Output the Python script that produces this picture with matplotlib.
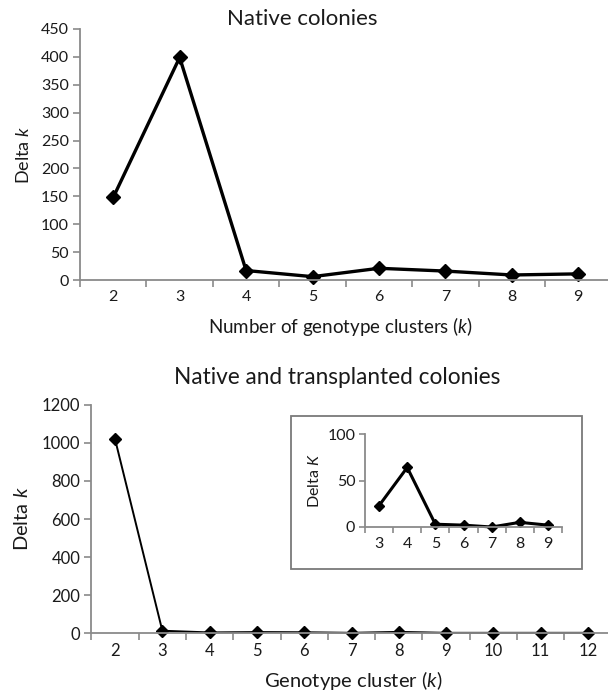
import matplotlib
matplotlib.use("Agg")
import matplotlib.pyplot as plt
from matplotlib.patches import Rectangle

plt.rcParams['font.family'] = ['Lato', 'DejaVu Sans']
plt.rcParams['mathtext.fontset'] = 'custom'
plt.rcParams['mathtext.rm'] = 'Lato'
plt.rcParams['mathtext.it'] = 'Lato:italic'

# Native colonies
k_native = [2, 3, 4, 5, 6, 7, 8, 9]
delta_native = [148, 399, 17, 6, 21, 16, 9, 11]

# Native and transplanted colonies
k_all = [2, 3, 4, 5, 6, 7, 8, 9, 10, 11, 12]
delta_all = [1020, 12, 3, 5, 4, 1, 6, 1, 1, 1, 1]

# inset (zoom of k = 3..9)
k_inset = [3, 4, 5, 6, 7, 8, 9]
delta_inset = [23, 64, 3, 2, 0, 5, 2]

AXIS = '#8a8a8a'
TXT = '#1a1a1a'


def style_axes(ax, cats, ylim, yticks, tick_fs, tlen=5):
    ax.set_xlim(cats[0] - 0.5, cats[-1] + 0.5)
    ax.set_ylim(*ylim)
    ax.set_yticks(yticks)
    ax.set_xticks(cats)
    ax.set_xticks([c - 0.5 for c in cats] + [cats[-1] + 0.5], minor=True)
    ax.tick_params(axis='x', which='major', length=0, pad=7, labelsize=tick_fs, colors=TXT)
    ax.tick_params(axis='x', which='minor', length=tlen, direction='out', color=AXIS, width=1.2)
    ax.tick_params(axis='y', length=tlen, direction='out', color=AXIS, width=1.2,
                   labelsize=tick_fs, labelcolor=TXT, pad=3)
    for s in ['top', 'right']:
        ax.spines[s].set_visible(False)
    for s in ['left', 'bottom']:
        ax.spines[s].set_color(AXIS)
        ax.spines[s].set_linewidth(1.3)
    ax.patch.set_alpha(0)


fig = plt.figure(figsize=(6.08, 6.92), dpi=100)
W, H = 608, 692


def px_axes(x0, y0, x1, y1):
    return fig.add_axes([x0 / W, 1 - y1 / H, (x1 - x0) / W, (y1 - y0) / H])


# top chart
ax1 = px_axes(80, 29, 611.5, 280)
ax1.plot(k_native, delta_native, color='black', lw=2.4, marker='D', ms=7.5, clip_on=False)
style_axes(ax1, k_native, (0, 450), range(0, 451, 50), 11.5)
ax1.set_ylabel('Delta $k$', fontsize=13, color=TXT, labelpad=6)
fig.text(302 / W, 1 - 19 / H, 'Native colonies', ha='center', va='center', fontsize=16, color=TXT)
fig.text(341 / W, 1 - 326 / H, 'Number of genotype clusters ($k$)', ha='center', va='center',
         fontsize=13.5, color=TXT)

# bottom chart
ax2 = px_axes(91.4, 405, 611.6, 633)
ax2.plot(k_all, delta_all, color='black', lw=1.4, marker='D', ms=6.5, clip_on=False)
style_axes(ax2, k_all, (0, 1200), range(0, 1201, 200), 12)
ax2.set_ylabel('Delta $k$', fontsize=14.5, color=TXT, labelpad=8)
fig.text(337 / W, 1 - 377 / H, 'Native and transplanted colonies', ha='center', va='center',
         fontsize=16.3, color=TXT)
fig.text(353 / W, 1 - 681 / H, 'Genotype cluster ($k$)', ha='center', va='center',
         fontsize=14.5, color=TXT)

# inset box
fig.patches.append(Rectangle((291 / W, 1 - 569 / H), 291 / W, 153 / H, transform=fig.transFigure,
                             fill=True, facecolor='white', edgecolor='#7a7a7a', lw=1.3, zorder=2))

ax3 = px_axes(365, 434, 562, 527)
ax3.set_zorder(5)
ax3.plot(k_inset, delta_inset, color='black', lw=2.2, marker='D', ms=5.5, clip_on=False)
style_axes(ax3, k_inset, (0, 100), [0, 50, 100], 11.5, tlen=4)
ax3.set_ylabel('Delta $K$', fontsize=11.5, color=TXT, labelpad=4)

fig.savefig('out.png', dpi=100)
